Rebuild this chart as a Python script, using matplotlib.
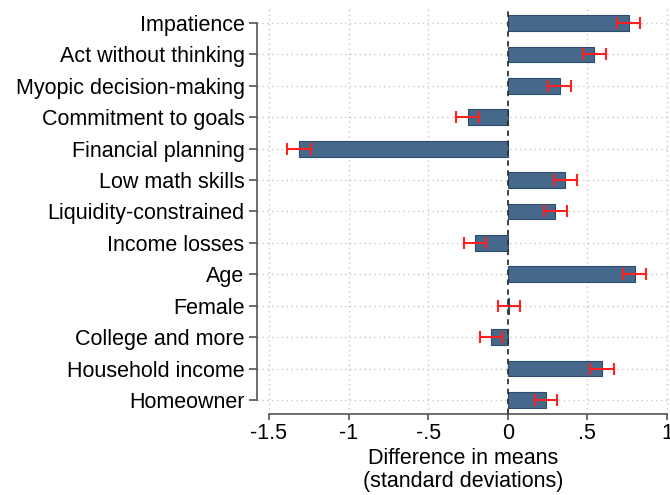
import numpy as np
import matplotlib.pyplot as plt

plt.rcParams['font.family'] = ['Liberation Sans', 'DejaVu Sans']

labels = ['Impatience', 'Act without thinking', 'Myopic decision-making',
          'Commitment to goals', 'Financial planning', 'Low math skills',
          'Liquidity-constrained', 'Income losses', 'Age', 'Female',
          'College and more', 'Household income', 'Homeowner']
diff = [0.76, 0.54, 0.326, -0.25, -1.31, 0.361, 0.298, -0.204, 0.799,
        0.005, -0.106, 0.594, 0.24]
ci_low = [0.688, 0.47, 0.255, -0.323, -1.389, 0.292, 0.229, -0.275, 0.724,
          -0.064, -0.177, 0.516, 0.171]
ci_high = [0.83, 0.615, 0.395, -0.181, -1.234, 0.435, 0.37, -0.135, 0.87,
           0.079, -0.035, 0.669, 0.311]
xticks = [-1.5, -1, -0.5, 0, 0.5, 1]
xticklabels = ['-1.5', '-1', '-.5', '0', '.5', '1']

W, H = 670, 495
fig = plt.figure(figsize=(W / 100, H / 100), dpi=100)
ax = fig.add_axes([257 / W, 1 - 414 / H, (670 - 257) / W, (414 - 8) / H])

y = np.arange(len(labels))[::-1]
diff = np.array(diff)
lo = np.array(ci_low)
hi = np.array(ci_high)

ax.barh(y, diff, height=0.5, color='#46698b', edgecolor='#2b4c6c',
        linewidth=0.8, zorder=3)
ax.errorbar(diff, y, xerr=[diff - lo, hi - diff], fmt='none', ecolor='#ff2020',
            elinewidth=1.5, capsize=4, capthick=1.5, zorder=4)
ax.axvline(0, color='#333333', ls=(0, (3, 2.5)), lw=1.3, zorder=5)

ax.set_xlim(-1.575, 1.019)
ax.set_ylim(-0.446, 12.477)
ax.set_yticks(y)
ax.set_yticklabels(labels, fontsize=15.5)
ax.set_xticks(xticks)
ax.set_xticklabels(xticklabels, fontsize=15.5)
ax.set_xlabel('Difference in means\n(standard deviations)', fontsize=15.5,
              labelpad=3, linespacing=1.1)

for gx in xticks:
    if gx != 0:
        ax.axvline(gx, color='#c8c8c8', ls=(0, (1, 2.5)), lw=1, zorder=1)
for gy in y:
    ax.axhline(gy, color='#c8c8c8', ls=(0, (1, 2.5)), lw=1, zorder=1)

for s in ['top', 'right']:
    ax.spines[s].set_visible(False)
ax.spines['left'].set_bounds(0, 12)
ax.spines['bottom'].set_bounds(-1.5, 1)
for s in ['left', 'bottom']:
    ax.spines[s].set_color('#555555')
    ax.spines[s].set_linewidth(1.2)
ax.tick_params(axis='y', length=6, width=1.2, color='#555555', pad=3)
ax.tick_params(axis='x', length=4.5, width=1.2, color='#555555', pad=2)

fig.savefig('out.png', dpi=100)
